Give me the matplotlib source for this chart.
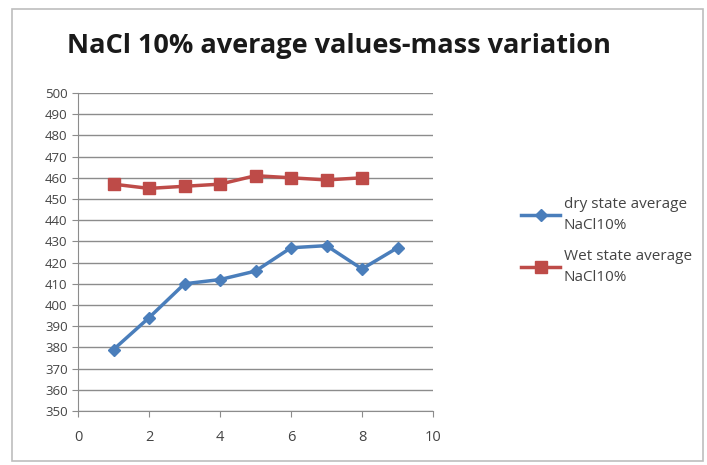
#!/usr/bin/env python3
# -*- coding: utf-8 -*-
import matplotlib
matplotlib.use("Agg")
import matplotlib.pyplot as plt
from matplotlib.patches import Rectangle

# 数据
dry_x = [1, 2, 3, 4, 5, 6, 7, 8, 9]
dry_y = [379, 394, 410, 412, 416, 427, 428, 417, 427]
wet_x = [1, 2, 3, 4, 5, 6, 7, 8]
wet_y = [457, 455, 456, 457, 461, 460, 459, 460]
x_ticks = [0, 2, 4, 6, 8, 10]
y_ticks = list(range(350, 501, 10))

title = "NaCl 10% average values-mass variation"
dry_label = "dry state average\nNaCl10%"
wet_label = "Wet state average\nNaCl10%"


def __cmd():
  plt.rcParams["font.family"] = ["Open Sans", "DejaVu Sans"]
  fig = plt.figure(figsize=(7.07, 4.65), dpi=100)
  fig.patches.append(Rectangle((12 / 707, 1 - 461 / 465), 691 / 707, 452 / 465,
                               transform=fig.transFigure, fill=False,
                               edgecolor="#bdbdbd", linewidth=1.2))
  ax = fig.add_axes([78 / 707, 1 - 411 / 465, 355 / 707, 318 / 465])

  ax.plot(dry_x, dry_y, color="#4a7ebb", linewidth=2.5, marker="D",
          markersize=6, label=dry_label)
  ax.plot(wet_x, wet_y, color="#be4b48", linewidth=2.5, marker="s",
          markersize=8, label=wet_label)

  ax.set_xlim(0, 10)
  ax.set_ylim(350, 500)
  ax.set_xticks(x_ticks)
  ax.set_yticks(y_ticks)
  ax.yaxis.grid(True, color="#8c8c8c", linewidth=1)
  ax.set_axisbelow(True)
  for side in ["top", "right"]:
    ax.spines[side].set_visible(False)
  for side in ["left", "bottom"]:
    ax.spines[side].set_color("#8c8c8c")
  ax.tick_params(axis="both", colors="#8c8c8c", labelcolor="#444444",
                 labelsize=9.5, length=4)
  ax.tick_params(axis="x", labelsize=10.5, pad=10)

  fig.text(339 / 707, 1 - 46 / 465, title, ha="center", va="center",
           fontsize=19.5, fontweight="bold", color="#1a1a1a")
  leg = fig.legend(loc="center left", bbox_to_anchor=(507 / 707, 1 - 241 / 465),
                   frameon=False, fontsize=11, handlelength=2.6,
                   labelspacing=1.05, handletextpad=0.2, labelcolor="#444444")
  for t in leg.get_texts():
    t.set_linespacing(1.55)

  fig.savefig("out.png", dpi=100)


if __name__ == '__main__':
  __cmd()
